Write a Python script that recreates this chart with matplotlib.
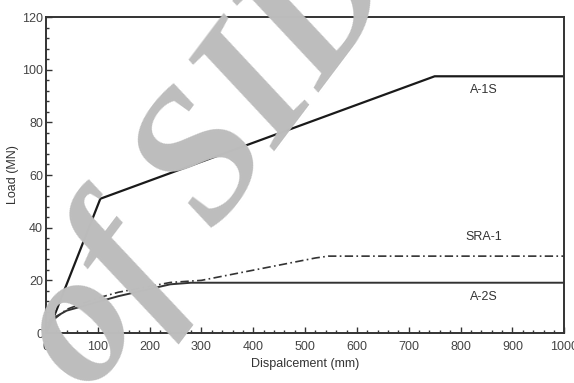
import matplotlib
matplotlib.use("Agg")
import matplotlib.pyplot as plt
from matplotlib.ticker import MultipleLocator

# Data
a1s_x = [0, 15, 105, 750, 1000]
a1s_y = [0, 6, 51, 97.5, 97.5]

a2s_x = [0, 8, 40, 100, 140, 240, 280, 1000]
a2s_y = [0, 5, 8.5, 11.8, 14, 18.5, 19.1, 19.1]

sra_x = [0, 8, 40, 95, 140, 240, 300, 520, 545, 1000]
sra_y = [0, 4, 9, 13, 15.5, 19.2, 20, 28.5, 29.2, 29.2]

x_ticks = [0, 100, 200, 300, 400, 500, 600, 700, 800, 900, 1000]
y_ticks = [0, 20, 40, 60, 80, 100, 120]

plt.rcParams['font.family'] = ['Liberation Sans', 'DejaVu Sans']

fig = plt.figure(figsize=(5.74, 3.83), dpi=100)
ax = fig.add_axes([0.080, 0.1305, 0.903, 0.825])

ax.plot(a1s_x, a1s_y, color='#1a1a1a', lw=1.6)
ax.plot(a2s_x, a2s_y, color='#333333', lw=1.4)
ax.plot(sra_x, sra_y, color='#333333', lw=1.2, ls=(0, (5, 2, 1, 2)))

ax.text(845, 92.3, 'A-1S', ha='center', va='center', fontsize=9, color='#333333')
ax.text(845, 36.5, 'SRA-1', ha='center', va='center', fontsize=9, color='#333333')
ax.text(845, 13.7, 'A-2S', ha='center', va='center', fontsize=9, color='#333333')

ax.set_xlim(0, 1000)
ax.set_ylim(0, 120)
ax.set_xticks(x_ticks)
ax.set_yticks(y_ticks)
ax.xaxis.set_minor_locator(MultipleLocator(20))
ax.yaxis.set_minor_locator(MultipleLocator(4))
ax.tick_params(which='both', direction='in', top=False, right=False,
               labelsize=9, labelcolor='#444444', color='#333333')
ax.tick_params(which='major', length=4, width=1.0)
ax.tick_params(which='minor', length=2.5, width=1.0)
ax.tick_params(axis='x', pad=6)
ax.tick_params(axis='y', pad=2)
for s in ax.spines.values():
    s.set_linewidth(1.4)
    s.set_color('#333333')

ax.set_xlabel('Dispalcement (mm)', fontsize=9, color='#333333', labelpad=3)
ax.set_ylabel('Load (MN)', fontsize=9, color='#333333', labelpad=2)

# watermark
fig.text(0.365, 0.58, 'of SID', rotation=53, fontsize=135, family='Liberation Serif',
         style='italic', weight='bold', color='#bdbdbd', ha='center', va='center', zorder=10)

fig.savefig('out.png', dpi=100)
